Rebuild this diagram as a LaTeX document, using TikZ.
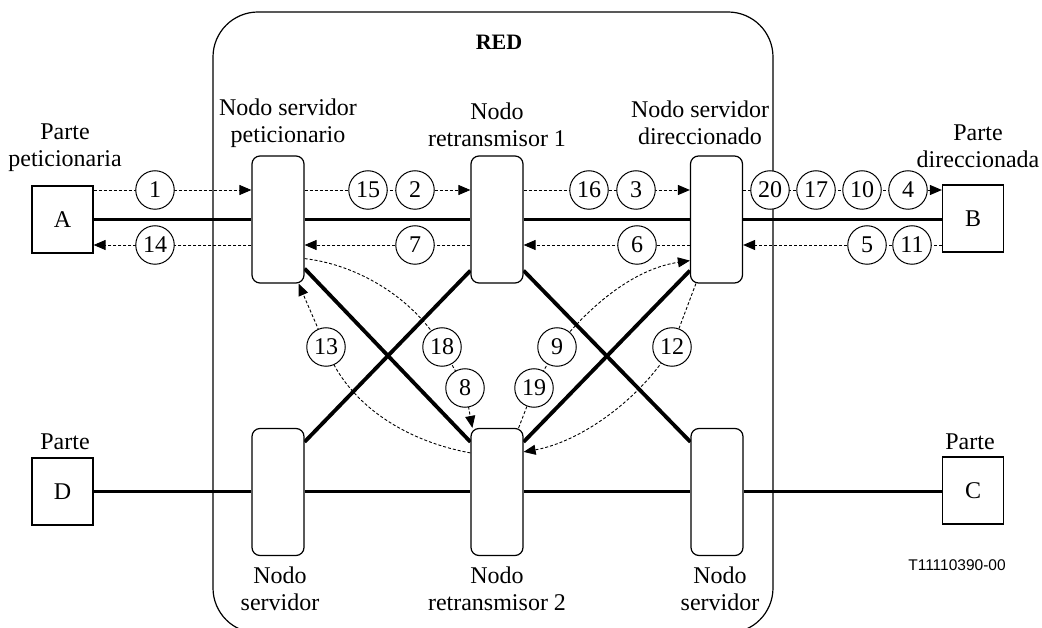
\documentclass[tikz,border=0pt]{standalone}
\usepackage{fontspec}
\setmainfont{Liberation Serif}
\newfontfamily\codesans{Liberation Sans}
\usetikzlibrary{arrows.meta,calc,backgrounds}

\begin{document}
\begin{tikzpicture}[x=1pt,y=-1pt,
  every node/.style={font=\fontsize{24}{27}\selectfont},
  party/.style={draw,line width=1.2pt,minimum width=61pt,minimum height=67pt,inner sep=0pt},
  srv/.style={draw,line width=1.2pt,rounded corners=8pt,minimum width=52pt,minimum height=127pt,fill=white,inner sep=0pt},
  num/.style={circle,draw,fill=white,line width=1pt,minimum size=38.5pt,inner sep=0pt},
  lbl/.style={align=center,inner sep=0pt},
  sig/.style={line width=0.9pt,dash pattern=on 3pt off 2pt},
  arr/.style={sig,-{Triangle[length=12pt,width=10pt]}},
  trunk/.style={line width=3.8pt}]
\useasboundingbox (0,0) rectangle (1042,628);

% network frame (its lower edge runs just past the page)
\draw[line width=1.2pt,rounded corners=45pt] (213,12) rectangle (773,633);
\node[font=\fontsize{22}{26}\selectfont\bfseries,inner sep=0pt] (red) at (499,42.5) {RED};

% parties
\node[party] (a) at (62.5,219.5) {A};
\node[party] (b) at (973,218.5) {B};
\node[party] (d) at (62.5,491.5) {D};
\node[party] (c) at (973,490.5) {C};
\node[lbl] (la) at (65,148) {Parte\\peticionaria};
\node[lbl] (lb) at (978,146) {Parte\\direccionada};
\node[lbl] (ld) at (65,442) {Parte};
\node[lbl] (lc) at (970,442) {Parte};

% network nodes
\node[srv] (nsp) at (278,219.5) {};
\node[srv] (nr1) at (497,219.5) {};
\node[srv] (nsd) at (716.5,219.5) {};
\node[srv] (ns1) at (278,492) {};
\node[srv] (nr2) at (497,492) {};
\node[srv] (ns2) at (717,492) {};
\node[lbl] (lnsp) at (288,123) {Nodo servidor\\peticionario};
\node[lbl] (lnr1) at (497,125) {Nodo\\retransmisor 1};
\node[lbl] (lnsd) at (700,123) {Nodo servidor\\direccionado};
\node[lbl] (lns1) at (280,589) {Nodo\\servidor};
\node[lbl] (lnr2) at (497,589) {Nodo\\retransmisor 2};
\node[lbl] (lns2) at (720,589) {Nodo\\servidor};

\node[font=\codesans\fontsize{15.5}{18}\selectfont,inner sep=0pt] (code) at (957,565.5) {T11110390-00};

% message numbers
\coordinate (up) at (0,190);
\coordinate (dn) at (0,245);
\node[num] (c1)  at (155,190) {1};
\node[num] (c15) at (368,190) {15};
\node[num] (c2)  at (415,190) {2};
\node[num] (c16) at (589,190) {16};
\node[num] (c3)  at (636,190) {3};
\node[num] (c20) at (770,190) {20};
\node[num] (c17) at (816,190) {17};
\node[num] (c10) at (862,190) {10};
\node[num] (c4)  at (908,190) {4};
\node[num] (c14) at (155,245) {14};
\node[num] (c7)  at (415,245) {7};
\node[num] (c6)  at (637,245) {6};
\node[num] (c5)  at (867,245) {5};
\node[num] (c11) at (912,245) {11};
\node[num] (c13) at (326,347) {13};
\node[num] (c18) at (442,347) {18};
\node[num] (c8)  at (465,388) {8};
\node[num] (c19) at (534,388) {19};
\node[num] (c9)  at (557,347) {9};
\node[num] (c12) at (672,347) {12};

\begin{pgfonlayer}{background}
  % transmission links
  \draw[trunk] (a.east) -- (nsp.west |- a.east);
  \draw[trunk] (nsp.east |- a.east) -- (nr1.west |- a.east);
  \draw[trunk] (nr1.east |- a.east) -- (nsd.west |- a.east);
  \draw[trunk] (nsd.east |- a.east) -- (b.west |- a.east);
  \draw[trunk] (d.east) -- (ns1.west |- d.east);
  \draw[trunk] (ns1.east |- d.east) -- (nr2.west |- d.east);
  \draw[trunk] (nr2.east |- d.east) -- (ns2.west |- d.east);
  \draw[trunk] (ns2.east |- d.east) -- (c.west |- d.east);
  \draw[trunk] ($(nsp.south east)+(0,-15)$) -- ($(nr2.north west)+(0,14)$);
  \draw[trunk] ($(nr1.south west)+(0,-13)$) -- ($(ns1.north east)+(0,14)$);
  \draw[trunk] ($(nr1.south east)+(0,-13)$) -- ($(ns2.north west)+(0,14)$);
  \draw[trunk] ($(nsd.south west)+(0,-13)$) -- ($(nr2.north east)+(0,14)$);

  % forward signalling
  \draw[arr] (a.east |- up) -- (nsp.west |- up);
  \draw[arr] (nsp.east |- up) -- (nr1.west |- up);
  \draw[arr] (nr1.east |- up) -- (nsd.west |- up);
  \draw[arr] (nsd.east |- up) -- (b.west |- up);
  % backward signalling
  \draw[arr] (b.west |- dn) -- (nsd.east |- dn);
  \draw[arr] (nsd.west |- dn) -- (nr1.east |- dn);
  \draw[arr] (nr1.west |- dn) -- (nsp.east |- dn);
  \draw[arr] (nsp.west |- dn) -- (a.east |- dn);

  % signalling via the second relay
  \draw[arr] ($(nsp.south east)+(0,-25)$) .. controls (360,265) and (415,300) .. (c18.center) -- (c8.center) -- ($(nr2.north west)+(2,0)$);
  \draw[arr] ($(nr2.north west)+(0,25)$) .. controls (400,440) and (345,400) .. (c13.center) -- ($(nsp.south east)+(-6,0)$);
  \draw[arr] ($(nr2.north east)+(-5,0)$) -- (c19.center) -- (c9.center) .. controls (597,297) and (640,268) .. ($(nsd.south west)+(0,-23)$);
  \draw[arr] ($(nsd.south west)+(6,0)$) -- (c12.center) .. controls (640,400) and (580,442) .. ($(nr2.north east)+(0,24)$);
\end{pgfonlayer}
\end{tikzpicture}
\end{document}
